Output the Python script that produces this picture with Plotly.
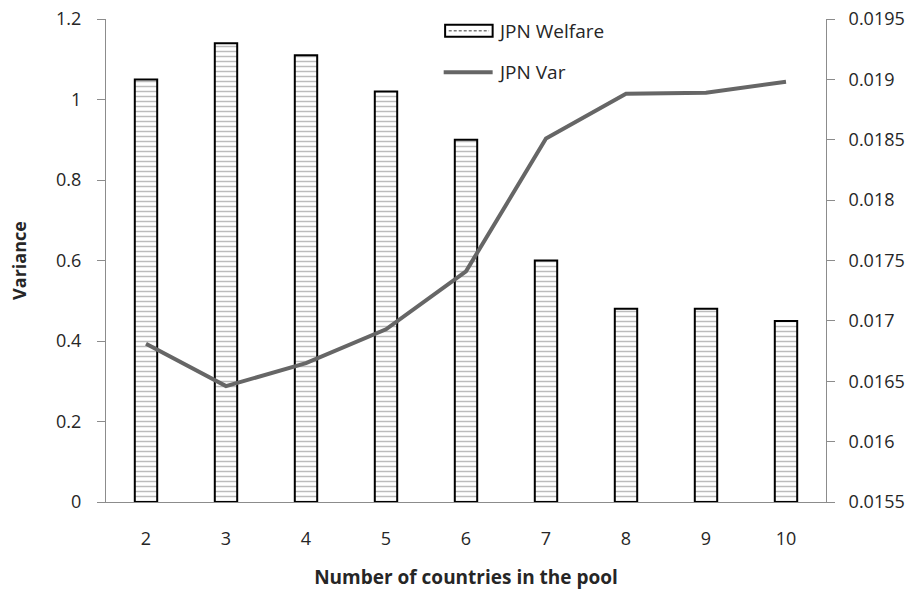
import plotly.graph_objects as go

# Pool size on the x axis
countries = ["2", "3", "4", "5", "6", "7", "8", "9", "10"]
# Welfare bars (left axis)
jpn_welfare = [1.05, 1.14, 1.11, 1.02, 0.90, 0.60, 0.48, 0.48, 0.45]
# Variance line (right axis)
jpn_var = [0.01681, 0.01646, 0.01665, 0.01693, 0.01741, 0.01851, 0.01888, 0.01889, 0.01898]

left_ticks = [0, 0.2, 0.4, 0.6, 0.8, 1.0, 1.2]
left_labels = ["0", "0.2", "0.4", "0.6", "0.8", "1", "1.2"]
right_ticks = [0.0155, 0.016, 0.0165, 0.017, 0.0175, 0.018, 0.0185, 0.019, 0.0195]
right_labels = ["0.0155", "0.016", "0.0165", "0.017", "0.0175", "0.018", "0.0185", "0.019", "0.0195"]

FONT = "Open Sans, Noto Sans, sans-serif"
AXIS_GREY = "#8c8c8c"
TEXT = "#262626"
LINE_GREY = "#666666"

fig = go.Figure()
fig.add_trace(go.Bar(
    x=countries, y=jpn_welfare, name="JPN Welfare",
    marker=dict(
        color="white",
        line=dict(color="black", width=2),
        pattern=dict(shape="-", fgcolor="#7a7a7a", bgcolor="white", size=5, solidity=0.3),
    ),
    showlegend=False,
))
fig.add_trace(go.Scatter(
    x=countries, y=jpn_var, name="JPN Var", yaxis="y2", mode="lines",
    line=dict(color=LINE_GREY, width=4),
    showlegend=False,
))

# Legend drawn in paper coordinates: patterned box for the bars, thick line for the series
legend_shapes = [
    dict(type="rect", xref="paper", yref="paper", x0=0.471, x1=0.537, y0=0.963, y1=0.988,
         line=dict(color="black", width=2), fillcolor="white"),
    dict(type="line", xref="paper", yref="paper", x0=0.476, x1=0.532, y0=0.9755, y1=0.9755,
         line=dict(color="#7a7a7a", width=1.5, dash="3px,2px")),
    dict(type="line", xref="paper", yref="paper", x0=0.469, x1=0.537, y0=0.890, y1=0.890,
         line=dict(color=LINE_GREY, width=4)),
]
legend_text = [
    dict(text="JPN Welfare", xref="paper", yref="paper", x=0.541, y=0.9755,
         xanchor="left", yanchor="middle", showarrow=False, font=dict(size=19, color=TEXT)),
    dict(text="JPN Var", xref="paper", yref="paper", x=0.541, y=0.890,
         xanchor="left", yanchor="middle", showarrow=False, font=dict(size=19, color=TEXT)),
]

fig.update_layout(
    width=920, height=592,
    margin=dict(l=106, r=94, t=19, b=90, autoexpand=False),
    paper_bgcolor="white", plot_bgcolor="white",
    font=dict(family=FONT, size=18, color=TEXT),
    bargap=0.72,
    showlegend=False,
    shapes=legend_shapes,
    annotations=legend_text,
    xaxis=dict(
        showline=True, linecolor=AXIS_GREY, linewidth=1,
        ticks="", showgrid=False, tickfont=dict(size=18),
        ticklabelstandoff=20, automargin=False,
        title=dict(text="<b>Number of countries in the pool</b>", font=dict(size=19, color=TEXT), standoff=22),
    ),
    yaxis=dict(
        range=[0, 1.2], tickvals=left_ticks, ticktext=left_labels,
        showline=True, linecolor=AXIS_GREY, linewidth=1,
        ticks="outside", ticklen=8, tickcolor=AXIS_GREY,
        ticklabelstandoff=12, automargin=False,
        showgrid=False, zeroline=False, tickfont=dict(size=18),
        title=dict(text="<b>Variance</b>", font=dict(size=18, color=TEXT), standoff=24),
    ),
    yaxis2=dict(
        range=[0.0155, 0.0195], tickvals=right_ticks, ticktext=right_labels,
        overlaying="y", side="right",
        showline=True, linecolor=AXIS_GREY, linewidth=1,
        ticks="outside", ticklen=8, tickcolor=AXIS_GREY,
        ticklabelstandoff=10, automargin=False,
        showgrid=False, zeroline=False, tickfont=dict(size=18),
    ),
)

fig.write_html("out.html")
